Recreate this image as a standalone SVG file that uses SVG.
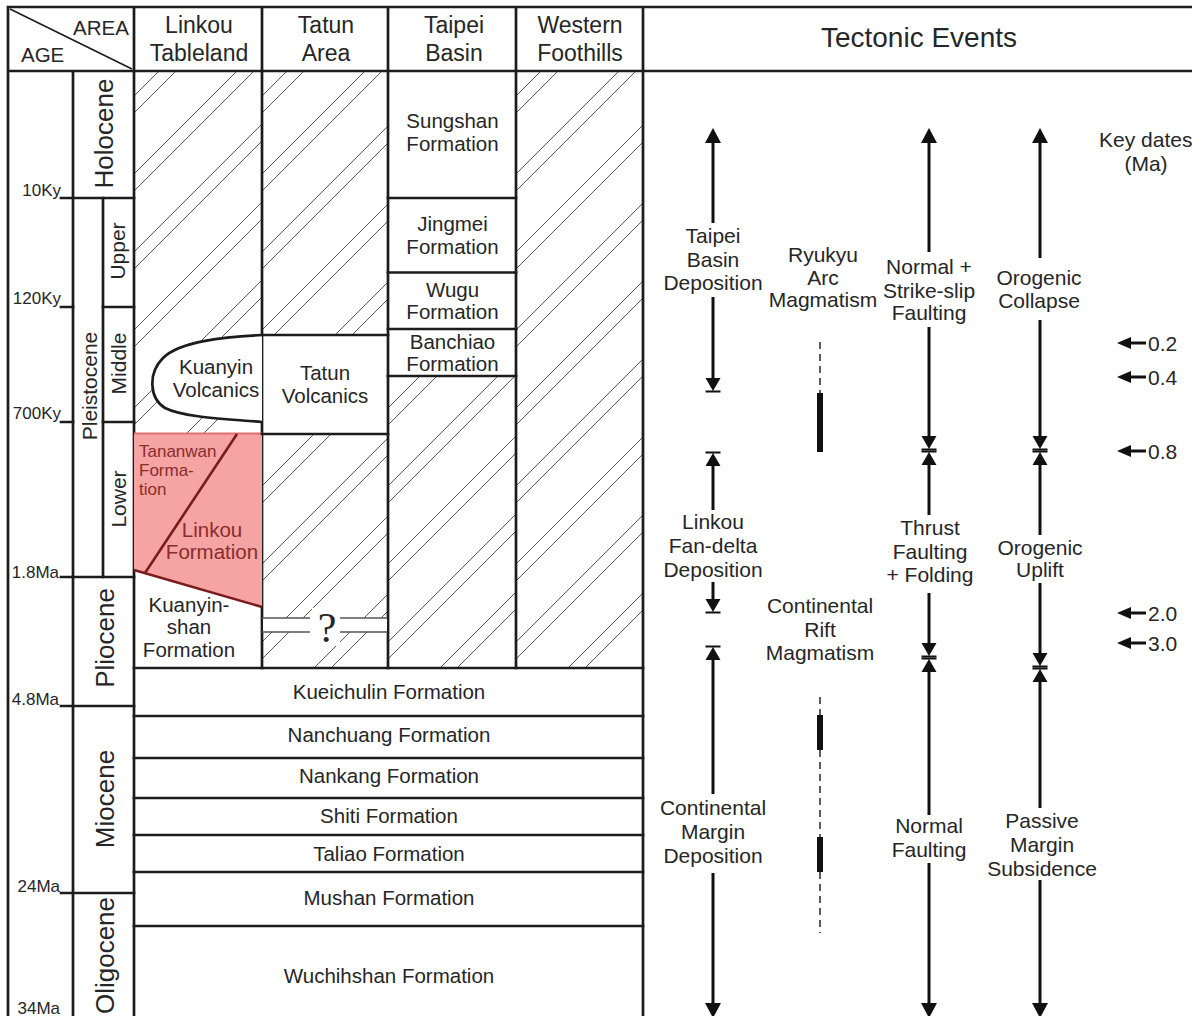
<svg xmlns="http://www.w3.org/2000/svg" width="1192" height="1016" viewBox="0 0 1192 1016">
<style>
.ln{stroke:#1c1c1c;stroke-width:2.7;fill:none;stroke-linecap:square}
.thin{stroke:#555;stroke-width:1.3;fill:none}
.t{font-family:"Liberation Sans",Arial,Helvetica,sans-serif;fill:#262626}
.hd{font-size:23px;text-anchor:middle}
.fm{font-size:20.5px;text-anchor:middle}
.ev{font-size:21px;text-anchor:middle}
.ag{font-size:17px;text-anchor:end}
.ep{font-size:26px;text-anchor:middle}
.sb{font-size:21px;text-anchor:middle}
.red{fill:#8a2c2c}
.ar{stroke:#111;stroke-width:3;fill:none}
.dash{stroke:#333;stroke-width:1.6;stroke-dasharray:7 5;fill:none}
.bar{stroke:#111;stroke-width:6;fill:none}
</style>
<defs>
<pattern id="hL" patternUnits="userSpaceOnUse" x="134" y="71" width="78" height="78">
<path d="M-2,27 L27,-2 M-2,44 L44,-2 M-2,105 L105,-2 M-2,122 L122,-2" stroke="#5a5a5a" stroke-width="1" fill="none"/>
</pattern>
<pattern id="hT" href="#hL" x="262"/>
<pattern id="hB" href="#hL" x="388"/>
<pattern id="hW" href="#hL" x="516"/>
<marker id="ah" markerUnits="userSpaceOnUse" markerWidth="20" markerHeight="20" refX="0" refY="0" orient="auto" overflow="visible">
<path d="M0,-8 L15,0 L0,8 Z" fill="#111"/>
</marker>
<marker id="ab" markerUnits="userSpaceOnUse" markerWidth="20" markerHeight="20" refX="0" refY="0" orient="auto" overflow="visible">
<path d="M0,-7.5 L13,0 L0,7.5 Z M12.5,-7.5 H14.5 V7.5 H12.5 Z" fill="#111"/>
</marker>
<marker id="ak" markerUnits="userSpaceOnUse" markerWidth="20" markerHeight="20" refX="0" refY="0" orient="auto" overflow="visible">
<path d="M0,-6 L14,0 L0,6 Z" fill="#111"/>
</marker>
</defs>
<rect width="1192" height="1016" fill="#fff"/>

<g id="hatching">
<rect x="134" y="71" width="128" height="363" fill="url(#hL)"/>
<rect x="262" y="71" width="126" height="264" fill="url(#hT)"/>
<rect x="262" y="434" width="126" height="234" fill="url(#hT)"/>
<rect x="388" y="376" width="128" height="292" fill="url(#hB)"/>
<rect x="516" y="71" width="127" height="597" fill="url(#hW)"/>
</g>

<g id="frame">
<path class="ln" d="M8,7 H1192 M8,71 H1192 M8,7 V1016 M73,71 V1016 M103,198 V577 M134,7 V1016 M262,7 V668 M388,7 V668 M516,7 V668 M643,7 V1016"/>
<path d="M10,9 L132,69" stroke="#1c1c1c" stroke-width="1.6" fill="none"/>
<path class="ln" d="M61,198 H134 M61,307 H73 M103,307 H134 M61,422 H73 M103,422 H134 M61,577 H134 M61,706 H134 M61,893 H134"/>
</g>

<g id="header">
<text class="t" x="73" y="35" font-size="20.5">AREA</text>
<text class="t" x="21" y="62" font-size="20.5">AGE</text>
<text class="t hd" x="199" y="33">Linkou<tspan x="199" y="61">Tableland</tspan></text>
<text class="t hd" x="326" y="33">Tatun<tspan x="326" y="61">Area</tspan></text>
<text class="t hd" x="454" y="33">Taipei<tspan x="454" y="61">Basin</tspan></text>
<text class="t hd" x="580" y="33">Western<tspan x="580" y="61">Foothills</tspan></text>
<text class="t" x="919" y="47" font-size="28" text-anchor="middle">Tectonic Events</text>
</g>

<g id="ages">
<text class="t ag" x="61" y="196">10Ky</text>
<text class="t ag" x="61" y="304">120Ky</text>
<text class="t ag" x="61" y="419">700Ky</text>
<text class="t ag" x="59" y="578">1.8Ma</text>
<text class="t ag" x="59" y="705">4.8Ma</text>
<text class="t ag" x="60" y="892">24Ma</text>
<text class="t ag" x="60" y="1014">34Ma</text>
</g>

<g id="epochs">
<text class="t ep" transform="translate(103.5,133.5) rotate(-90)" y="9.3">Holocene</text>
<text class="t sb" transform="translate(89.5,386) rotate(-90)" y="7.5">Pleistocene</text>
<text class="t sb" transform="translate(117,251) rotate(-90)" y="7.5">Upper</text>
<text class="t sb" transform="translate(118.5,363.5) rotate(-90)" y="7.5">Middle</text>
<text class="t sb" transform="translate(118.5,499) rotate(-90)" y="7.5">Lower</text>
<text class="t ep" transform="translate(104.5,638) rotate(-90)" y="9.3">Pliocene</text>
<text class="t ep" transform="translate(104.5,799) rotate(-90)" y="9.3">Miocene</text>
<text class="t ep" transform="translate(104.5,955.5) rotate(-90)" y="9.3">Oligocene</text>
</g>

<g id="kuanyin-volcanics">
<path d="M262,335 C225,337 180,341 163,358 C148,373 149,398 165,408 C185,418 230,419 262,422" fill="#fff" stroke="#1c1c1c" stroke-width="2.7"/>
<text class="t fm" x="216" y="374">Kuanyin<tspan x="216" y="397">Volcanics</tspan></text>
</g>

<g id="linkou-formation">
<path d="M134,433 L262,433 L262,607 L134,570 Z" fill="#f5a3a3"/>
<path d="M134,433.5 H262" stroke="#e07070" stroke-width="2" fill="none"/>
<path d="M134,570 L262,607 M237,434 L145,573" stroke="#7a1c1c" stroke-width="2.6" fill="none"/>
<text class="t red" x="139" y="457" font-size="17">Tananwan<tspan x="139" y="476">Forma-</tspan><tspan x="139" y="495">tion</tspan></text>
<text class="t fm red" x="212" y="537">Linkou<tspan x="212" y="559">Formation</tspan></text>
</g>

<g id="kuanyinshan-formation">
<text class="t fm" x="189" y="612">Kuanyin-<tspan x="189" y="634">shan</tspan><tspan x="189" y="657">Formation</tspan></text>
</g>

<g id="tatun-volcanics">
<path class="ln" d="M262,335 H388 M262,434 H388"/>
<text class="t fm" x="325" y="380">Tatun<tspan x="325" y="403">Volcanics</tspan></text>
</g>

<g id="tatun-unknown">
<rect x="263" y="618" width="124" height="14" fill="#fff"/>
<rect x="312" y="608" width="28" height="38" fill="#fff"/>
<path class="thin" d="M262,618 H310 M262,632 H310 M340,618 H387 M340,632 H387"/>
<text x="327" y="642" font-family="'Liberation Serif','Times New Roman',serif" font-size="42" text-anchor="middle" fill="#262626">?</text>
</g>

<g id="sungshan-formation">
<text class="t fm" x="452.5" y="128">Sungshan<tspan x="452.5" y="151">Formation</tspan></text>
</g>
<g id="jingmei-formation">
<path class="ln" d="M388,198 H516"/>
<text class="t fm" x="452.5" y="231">Jingmei<tspan x="452.5" y="254">Formation</tspan></text>
</g>
<g id="wugu-formation">
<path class="ln" d="M388,272.5 H516"/>
<text class="t fm" x="452.5" y="297">Wugu<tspan x="452.5" y="319">Formation</tspan></text>
</g>
<g id="banchiao-formation">
<path class="ln" d="M388,329 H516 M388,376 H516"/>
<text class="t fm" x="452.5" y="349">Banchiao<tspan x="452.5" y="371">Formation</tspan></text>
</g>

<g id="kueichulin-formation">
<path class="ln" d="M134,668 H643"/>
<text class="t fm" x="389" y="699">Kueichulin Formation</text>
</g>
<g id="nanchuang-formation">
<path class="ln" d="M134,716 H643"/>
<text class="t fm" x="389" y="742">Nanchuang Formation</text>
</g>
<g id="nankang-formation">
<path class="ln" d="M134,758 H643"/>
<text class="t fm" x="389" y="783">Nankang Formation</text>
</g>
<g id="shiti-formation">
<path class="ln" d="M134,798 H643"/>
<text class="t fm" x="389" y="823">Shiti Formation</text>
</g>
<g id="taliao-formation">
<path class="ln" d="M134,835 H643"/>
<text class="t fm" x="389" y="861">Taliao Formation</text>
</g>
<g id="mushan-formation">
<path class="ln" d="M134,872 H643"/>
<text class="t fm" x="389" y="905">Mushan Formation</text>
</g>
<g id="wuchihshan-formation">
<path class="ln" d="M134,926 H643"/>
<text class="t fm" x="389" y="983">Wuchihshan Formation</text>
</g>

<g id="connectors">
<path class="ar" d="M713,223 V143" marker-end="url(#ah)"/>
<path class="ar" d="M713,297 V378" marker-end="url(#ab)"/>
<path class="ar" d="M713,510 V466" marker-end="url(#ab)"/>
<path class="ar" d="M713,582 V599" marker-end="url(#ab)"/>
<path class="ar" d="M713,794 V660" marker-end="url(#ab)"/>
<path class="ar" d="M713,873 V1003" marker-end="url(#ah)"/>

<path class="dash" d="M820,342 V393"/>
<path class="bar" d="M820,393 V452 M820,715 V750 M820,837 V872"/>
<path class="dash" d="M820,697 V715 M820,750 V837 M820,872 V933"/>

<path class="ar" d="M929,252 V143" marker-end="url(#ah)"/>
<path class="ar" d="M929,327 V436" marker-end="url(#ab)"/>
<path class="ar" d="M929,515 V465" marker-end="url(#ab)"/>
<path class="ar" d="M929,593 V643" marker-end="url(#ab)"/>
<path class="ar" d="M929,815 V672" marker-end="url(#ab)"/>
<path class="ar" d="M929,863 V1003" marker-end="url(#ah)"/>

<path class="ar" d="M1040,258 V143" marker-end="url(#ah)"/>
<path class="ar" d="M1040,320 V436" marker-end="url(#ab)"/>
<path class="ar" d="M1040,535 V465" marker-end="url(#ab)"/>
<path class="ar" d="M1040,583 V653" marker-end="url(#ab)"/>
<path class="ar" d="M1040,808 V682" marker-end="url(#ab)"/>
<path class="ar" d="M1040,880 V1003" marker-end="url(#ah)"/>

<path class="ar" d="M1146,343 H1131" marker-end="url(#ak)"/>
<path class="ar" d="M1146,377 H1131" marker-end="url(#ak)"/>
<path class="ar" d="M1146,451 H1131" marker-end="url(#ak)"/>
<path class="ar" d="M1146,613 H1131" marker-end="url(#ak)"/>
<path class="ar" d="M1146,643 H1131" marker-end="url(#ak)"/>
</g>

<g id="events">
<text class="t ev" x="713" y="243">Taipei<tspan x="713" y="267">Basin</tspan><tspan x="713" y="290">Deposition</tspan></text>
<text class="t ev" x="713" y="529">Linkou<tspan x="713" y="553">Fan-delta</tspan><tspan x="713" y="577">Deposition</tspan></text>
<text class="t ev" x="713" y="815">Continental<tspan x="713" y="839">Margin</tspan><tspan x="713" y="863">Deposition</tspan></text>
<text class="t ev" x="823" y="262">Ryukyu<tspan x="823" y="285">Arc</tspan><tspan x="823" y="307">Magmatism</tspan></text>
<text class="t ev" x="820" y="613">Continental<tspan x="820" y="637">Rift</tspan><tspan x="820" y="660">Magmatism</tspan></text>
<text class="t ev" x="929" y="274">Normal +<tspan x="929" y="298">Strike-slip</tspan><tspan x="929" y="320">Faulting</tspan></text>
<text class="t ev" x="930" y="535">Thrust<tspan x="930" y="559">Faulting</tspan><tspan x="930" y="582">+ Folding</tspan></text>
<text class="t ev" x="929" y="833">Normal<tspan x="929" y="857">Faulting</tspan></text>
<text class="t ev" x="1039" y="285">Orogenic<tspan x="1039" y="308">Collapse</tspan></text>
<text class="t ev" x="1040" y="555">Orogenic<tspan x="1040" y="577">Uplift</tspan></text>
<text class="t ev" x="1042" y="828">Passive<tspan x="1042" y="852">Margin</tspan><tspan x="1042" y="876">Subsidence</tspan></text>
</g>

<g id="key-dates">
<text class="t" x="1099" y="147" font-size="21">Key dates</text>
<text class="t ev" x="1146" y="171">(Ma)</text>
<text class="t" x="1148" y="350.5" font-size="21">0.2</text>
<text class="t" x="1148" y="384.5" font-size="21">0.4</text>
<text class="t" x="1148" y="458.5" font-size="21">0.8</text>
<text class="t" x="1148" y="620.5" font-size="21">2.0</text>
<text class="t" x="1148" y="650.5" font-size="21">3.0</text>
</g>
</svg>
